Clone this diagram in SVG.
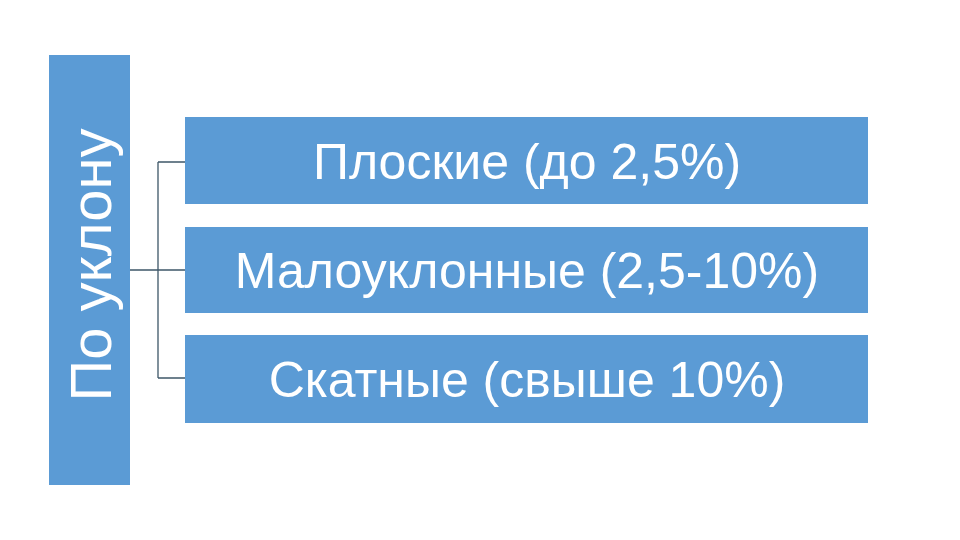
<svg xmlns="http://www.w3.org/2000/svg" width="960" height="540" viewBox="0 0 960 540">
<style>
.box{fill:#5b9bd5;}
.t{font-family:"Liberation Sans","Open Sans",sans-serif;fill:#ffffff;text-anchor:middle;}
.c{stroke:#3e5768;stroke-width:1.3;fill:none;}
</style>
<rect width="960" height="540" fill="#ffffff"/>
<g id="root">
<rect class="box" x="49" y="55" width="81" height="430"/>
<text class="t" font-size="58" transform="translate(111,265) rotate(-90)">По уклону</text>
</g>
<g id="connectors">
<path class="c" d="M130,270 H158 M158,162 V378 M158,162 H185 M158,270 H185 M158,378 H185"/>
</g>
<g id="n1">
<rect class="box" x="185" y="117" width="683" height="87"/>
<text class="t" font-size="50" x="527" y="179">Плоские (до 2,5%)</text>
</g>
<g id="n2">
<rect class="box" x="185" y="227" width="683" height="86"/>
<text class="t" font-size="50" x="527" y="288">Малоуклонные (2,5-10%)</text>
</g>
<g id="n3">
<rect class="box" x="185" y="335" width="683" height="88"/>
<text class="t" font-size="50" x="527" y="397">Скатные (свыше 10%)</text>
</g>
</svg>
